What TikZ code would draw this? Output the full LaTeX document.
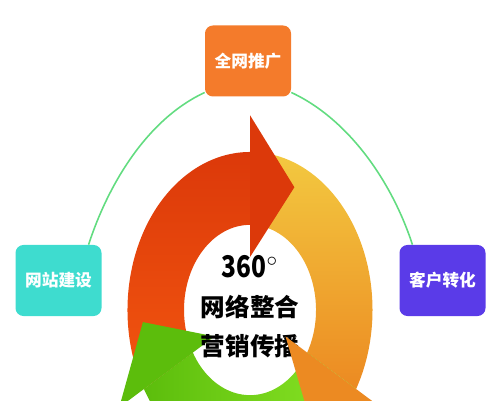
\documentclass[tikz,border=0pt]{standalone}
\usepackage{fontspec}
\setmainfont{Noto Sans CJK SC}
\definecolor{mkorange}{HTML}{F47B2B}
\definecolor{mkteal}{HTML}{3EDCCF}
\definecolor{mkpurple}{HTML}{5A3BE8}
\definecolor{mkline}{HTML}{62DC80}
\definecolor{mkred}{HTML}{DC390A}
\definecolor{mkredlight}{HTML}{F2560F}
\definecolor{mkyellow}{HTML}{F3C940}
\definecolor{mkamber}{HTML}{EC8A22}
\definecolor{mkgreen}{HTML}{5CBD0C}
\definecolor{mkgreenlight}{HTML}{8AE526}

\begin{document}
\begin{tikzpicture}[
  tag/.style={rounded corners=4.5pt, minimum width=1.72cm, minimum height=1.42cm, align=center, font=\bfseries\fontsize{9.5}{11}\selectfont, text=white},
  link/.style={draw=mkline, line width=0.9pt},
]
  \useasboundingbox (0,0) rectangle (10,8);

  % the ring of three arrows
  \begin{scope}
    \clip (0,0) rectangle (10,8);
    \begin{scope}[shift={(5,1.8)}, yscale=1.29]
      \shade[top color=mkred, bottom color=mkredlight] (210:2.45) arc[start angle=210, end angle=90, radius=2.45] -- (90:1.32) arc[start angle=90, end angle=210, radius=1.32] -- cycle;
      \shade[top color=mkyellow, bottom color=mkamber] (90:2.45) arc[start angle=90, end angle=-30, radius=2.45] -- (-30:1.32) arc[start angle=-30, end angle=90, radius=1.32] -- cycle;
      \shade[left color=mkgreen, right color=mkgreenlight] (-30:2.45) arc[start angle=-30, end angle=-150, radius=2.45] -- (-150:1.32) arc[start angle=-150, end angle=-30, radius=1.32] -- cycle;
      \fill[mkred] (90:0.82) -- (90:3.02) -- (65:2.1) -- cycle;
      \fill[mkgreen] (210:0.82) -- (210:3.02) -- (185:2.15) -- cycle;
      \node[align=center, font=\bfseries\fontsize{14}{22}\selectfont] (hub) at (0,0.05) {{\fontsize{17}{22}\selectfont\scalebox{0.82}[1]{360}$^\circ$}\\网络整合\\营销传播};
      \fill[mkamber] (-30:0.82) -- (-30:3.02) -- (-55:2.1) -- cycle;
    \end{scope}
  \end{scope}

  \node[tag, fill=mkorange] (tuiguang) at (4.96,6.78) {全网推广};
  \node[tag, fill=mkteal] (jianshe) at (1.17,2.39) {网站建设};
  \node[tag, fill=mkpurple] (zhuanhua) at (8.85,2.39) {客户转化};

  \draw[link] (jianshe.50) to[out=72, in=205, looseness=0.85] (tuiguang.216);
  \draw[link] (tuiguang.324) to[out=-25, in=108, looseness=0.85] (zhuanhua.130);
\end{tikzpicture}
\end{document}
